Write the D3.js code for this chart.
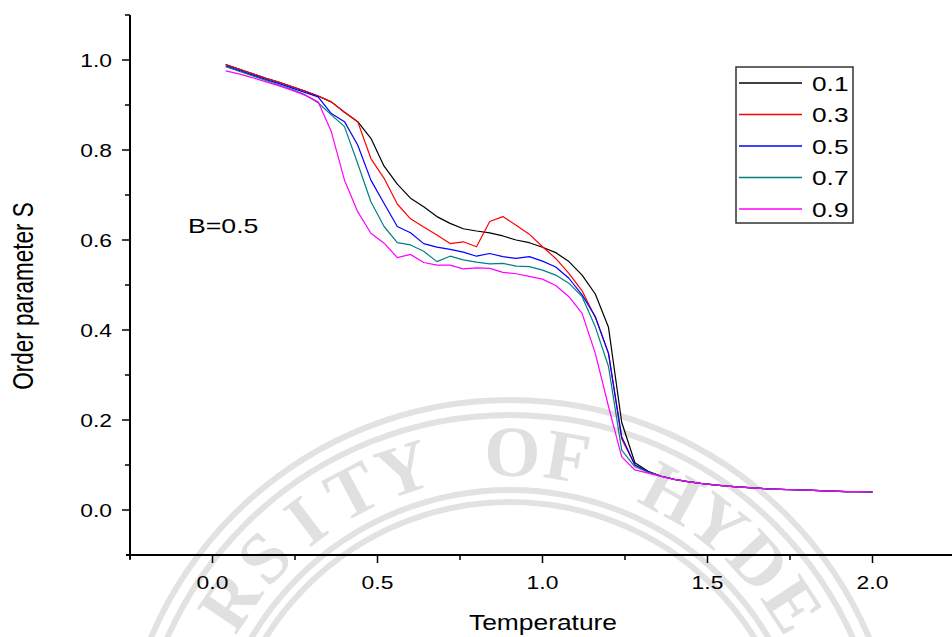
<!DOCTYPE html>
<html>
<head>
  <meta http-equiv="Content-Type" content="text/html;charset=utf-8">
  <title>Order parameter</title>
  <script src="https://d3js.org/d3.v7.min.js"></script>
  <style>
    html, body { margin: 0; padding: 0; background: #fff; }
    svg { display: block; }
    .curve { fill: none; stroke-width: 1.2px; stroke-linejoin: round; }
    text { font-family: "Liberation Sans", Arial, sans-serif; fill: #000; }
  </style>
</head>
<body>
<script type="text/javascript">

  var temps = [0.04, 0.08, 0.12, 0.16, 0.20, 0.24, 0.28, 0.32, 0.36, 0.40,
               0.44, 0.48, 0.52, 0.56, 0.60, 0.64, 0.68, 0.72, 0.76, 0.80,
               0.84, 0.88, 0.92, 0.96, 1.00, 1.04, 1.08, 1.12, 1.16, 1.20,
               1.24, 1.28, 1.32, 1.36, 1.40, 1.44, 1.48, 1.52, 1.56, 1.60,
               1.64, 1.68, 1.72, 1.76, 1.80, 1.84, 1.88, 1.92, 1.96, 2.00];

  var s01 = [0.990, 0.980, 0.970, 0.960, 0.951, 0.941, 0.931, 0.920, 0.907, 0.884,
             0.863, 0.826, 0.764, 0.724, 0.693, 0.674, 0.652, 0.637, 0.625, 0.620,
             0.616, 0.609, 0.600, 0.594, 0.584, 0.572, 0.552, 0.522, 0.480, 0.406,
             0.195, 0.105, 0.086, 0.075, 0.068, 0.063, 0.059, 0.056, 0.053, 0.051,
             0.049, 0.047, 0.046, 0.045, 0.044, 0.043, 0.042, 0.041, 0.041, 0.040];
  var s03 = [0.990, 0.980, 0.970, 0.960, 0.951, 0.941, 0.931, 0.920, 0.907, 0.884,
             0.863, 0.781, 0.737, 0.680, 0.647, 0.629, 0.611, 0.592, 0.596, 0.585,
             0.641, 0.652, 0.633, 0.613, 0.585, 0.559, 0.526, 0.487, 0.428, 0.348,
             0.158, 0.100, 0.085, 0.075, 0.068, 0.063, 0.059, 0.056, 0.053, 0.051,
             0.049, 0.047, 0.046, 0.045, 0.044, 0.043, 0.042, 0.041, 0.041, 0.040];
  var s05 = [0.987, 0.977, 0.967, 0.957, 0.948, 0.938, 0.928, 0.918, 0.881, 0.863,
             0.811, 0.733, 0.681, 0.630, 0.616, 0.592, 0.584, 0.579, 0.573, 0.564,
             0.570, 0.563, 0.559, 0.563, 0.553, 0.540, 0.515, 0.478, 0.430, 0.348,
             0.163, 0.100, 0.085, 0.075, 0.068, 0.063, 0.059, 0.056, 0.053, 0.051,
             0.049, 0.047, 0.046, 0.045, 0.044, 0.043, 0.042, 0.041, 0.041, 0.040];
  var s07 = [0.985, 0.975, 0.965, 0.955, 0.945, 0.935, 0.923, 0.905, 0.878, 0.852,
             0.770, 0.685, 0.630, 0.594, 0.589, 0.575, 0.552, 0.564, 0.556, 0.551,
             0.547, 0.548, 0.542, 0.541, 0.533, 0.522, 0.504, 0.474, 0.407, 0.319,
             0.133, 0.096, 0.084, 0.075, 0.068, 0.063, 0.059, 0.056, 0.053, 0.051,
             0.049, 0.047, 0.046, 0.045, 0.044, 0.043, 0.042, 0.041, 0.041, 0.040];
  var s09 = [0.976, 0.969, 0.961, 0.952, 0.943, 0.933, 0.922, 0.907, 0.841, 0.733,
             0.663, 0.615, 0.593, 0.561, 0.568, 0.550, 0.544, 0.544, 0.536, 0.538,
             0.537, 0.528, 0.525, 0.519, 0.513, 0.499, 0.474, 0.437, 0.348, 0.230,
             0.118, 0.089, 0.082, 0.074, 0.068, 0.063, 0.059, 0.056, 0.053, 0.051,
             0.049, 0.047, 0.046, 0.045, 0.044, 0.043, 0.042, 0.041, 0.041, 0.040];

  var seriesNames = ["0.1", "0.3", "0.5", "0.7", "0.9"];
  var seriesValues = [s01, s03, s05, s07, s09];
  var seriesColors = ["#000000", "#ff0000", "#0000ff", "#008080", "#ff00ff"];

  var xMajor = [0.0, 0.5, 1.0, 1.5, 2.0];
  var xMinor = [-0.25, 0.25, 0.75, 1.25, 1.75];
  var yMajor = [0.0, 0.2, 0.4, 0.6, 0.8, 1.0];
  var yMinor = [0.1, 0.3, 0.5, 0.7, 0.9, 1.1];

  var W = 952, H = 637;
  var stretch = 1.27;   // the picture is drawn a bit wide

  var x = d3.scaleLinear().domain([-0.25, 2.25]).range([130, 955]);
  var y = d3.scaleLinear().domain([-0.1, 1.1]).range([555, 15]);

  var svg = d3.select("body").append("svg")
    .attr("width", W)
    .attr("height", H);

  // faint university seal behind the plot (only the part inside the picture)
  var seal = svg.append("g").attr("transform", "translate(510,790)");
  [390, 375, 300, 288].forEach(function (r) {
    seal.append("circle").attr("r", r)
      .attr("fill", "none").attr("stroke", "#e2e2e2").attr("stroke-width", 6);
  });
  var sealText = "RSITY OF HYDE".split("");
  sealText.forEach(function (ch, i) {
    var ang = -56 + i * 9.4;
    seal.append("text")
      .attr("transform", "rotate(" + ang + ") translate(0,-314)")
      .attr("text-anchor", "middle")
      .style("font-family", "'Liberation Serif', serif")
      .style("font-weight", "bold")
      .style("font-size", "72px")
      .style("fill", "#e0e0e0")
      .text(ch);
  });

  // axes
  var xAxis = svg.append("g").attr("transform", "translate(0,555)");
  xAxis.append("line").attr("x1", 126).attr("x2", W)
    .attr("stroke", "#000").attr("stroke-width", 2);
  xAxis.selectAll(".maj").data(xMajor).enter().append("line")
    .attr("x1", x).attr("x2", x).attr("y1", 0).attr("y2", 8)
    .attr("stroke", "#000").attr("stroke-width", 1.5);
  xAxis.selectAll(".min").data(xMinor).enter().append("line")
    .attr("x1", x).attr("x2", x).attr("y1", 0).attr("y2", 5)
    .attr("stroke", "#000").attr("stroke-width", 1.5);
  xAxis.selectAll(".lab").data(xMajor).enter().append("text")
    .attr("transform", function (d) { return "translate(" + x(d) + ",34) scale(" + stretch + ",1)"; })
    .attr("text-anchor", "middle")
    .style("font-size", "18px")
    .text(d3.format(".1f"));

  var yAxis = svg.append("g").attr("transform", "translate(130,0)");
  yAxis.append("line").attr("y1", y(1.1)).attr("y2", 559)
    .attr("stroke", "#000").attr("stroke-width", 2);
  yAxis.selectAll(".maj").data(yMajor).enter().append("line")
    .attr("y1", y).attr("y2", y).attr("x1", 0).attr("x2", -8)
    .attr("stroke", "#000").attr("stroke-width", 1.5);
  yAxis.selectAll(".min").data(yMinor).enter().append("line")
    .attr("y1", y).attr("y2", y).attr("x1", 0).attr("x2", -5)
    .attr("stroke", "#000").attr("stroke-width", 1.5);
  yAxis.selectAll(".lab").data(yMajor).enter().append("text")
    .attr("transform", function (d) { return "translate(-18," + (y(d) + 6.5) + ") scale(" + stretch + ",1)"; })
    .attr("text-anchor", "end")
    .style("font-size", "18px")
    .text(d3.format(".1f"));

  // axis titles
  svg.append("text")
    .attr("transform", "translate(543,630) scale(1.2,1)")
    .attr("text-anchor", "middle")
    .style("font-size", "22px")
    .text("Temperature");
  svg.append("text")
    .attr("transform", "translate(33,296) rotate(-90) scale(1," + stretch + ")")
    .attr("text-anchor", "middle")
    .style("font-size", "22.5px")
    .text("Order parameter S");

  // curves
  var line = d3.line()
    .x(function (d) { return x(d[0]); })
    .y(function (d) { return y(d[1]); });

  seriesValues.forEach(function (vals, i) {
    svg.append("path")
      .attr("class", "curve")
      .attr("stroke", seriesColors[i])
      .attr("d", line(temps.map(function (t, j) { return [t, vals[j]]; })));
  });

  svg.append("text")
    .attr("transform", "translate(188,233) scale(" + stretch + ",1)")
    .style("font-size", "21px")
    .text("B=0.5");

  // legend
  var legend = svg.append("g").attr("transform", "translate(736,67)");
  legend.append("rect")
    .attr("width", 117).attr("height", 156)
    .attr("fill", "none").attr("stroke", "#333").attr("stroke-width", 1.5);
  seriesNames.forEach(function (name, i) {
    var ry = 16 + i * 31.5;
    legend.append("line")
      .attr("x1", 3).attr("x2", 66).attr("y1", ry).attr("y2", ry)
      .attr("stroke", seriesColors[i]).attr("stroke-width", 1.4);
    legend.append("text")
      .attr("transform", "translate(76," + (ry + 7.5) + ") scale(1.25,1)")
      .style("font-size", "21px")
      .text(name);
  });

</script>
</body>
</html>
